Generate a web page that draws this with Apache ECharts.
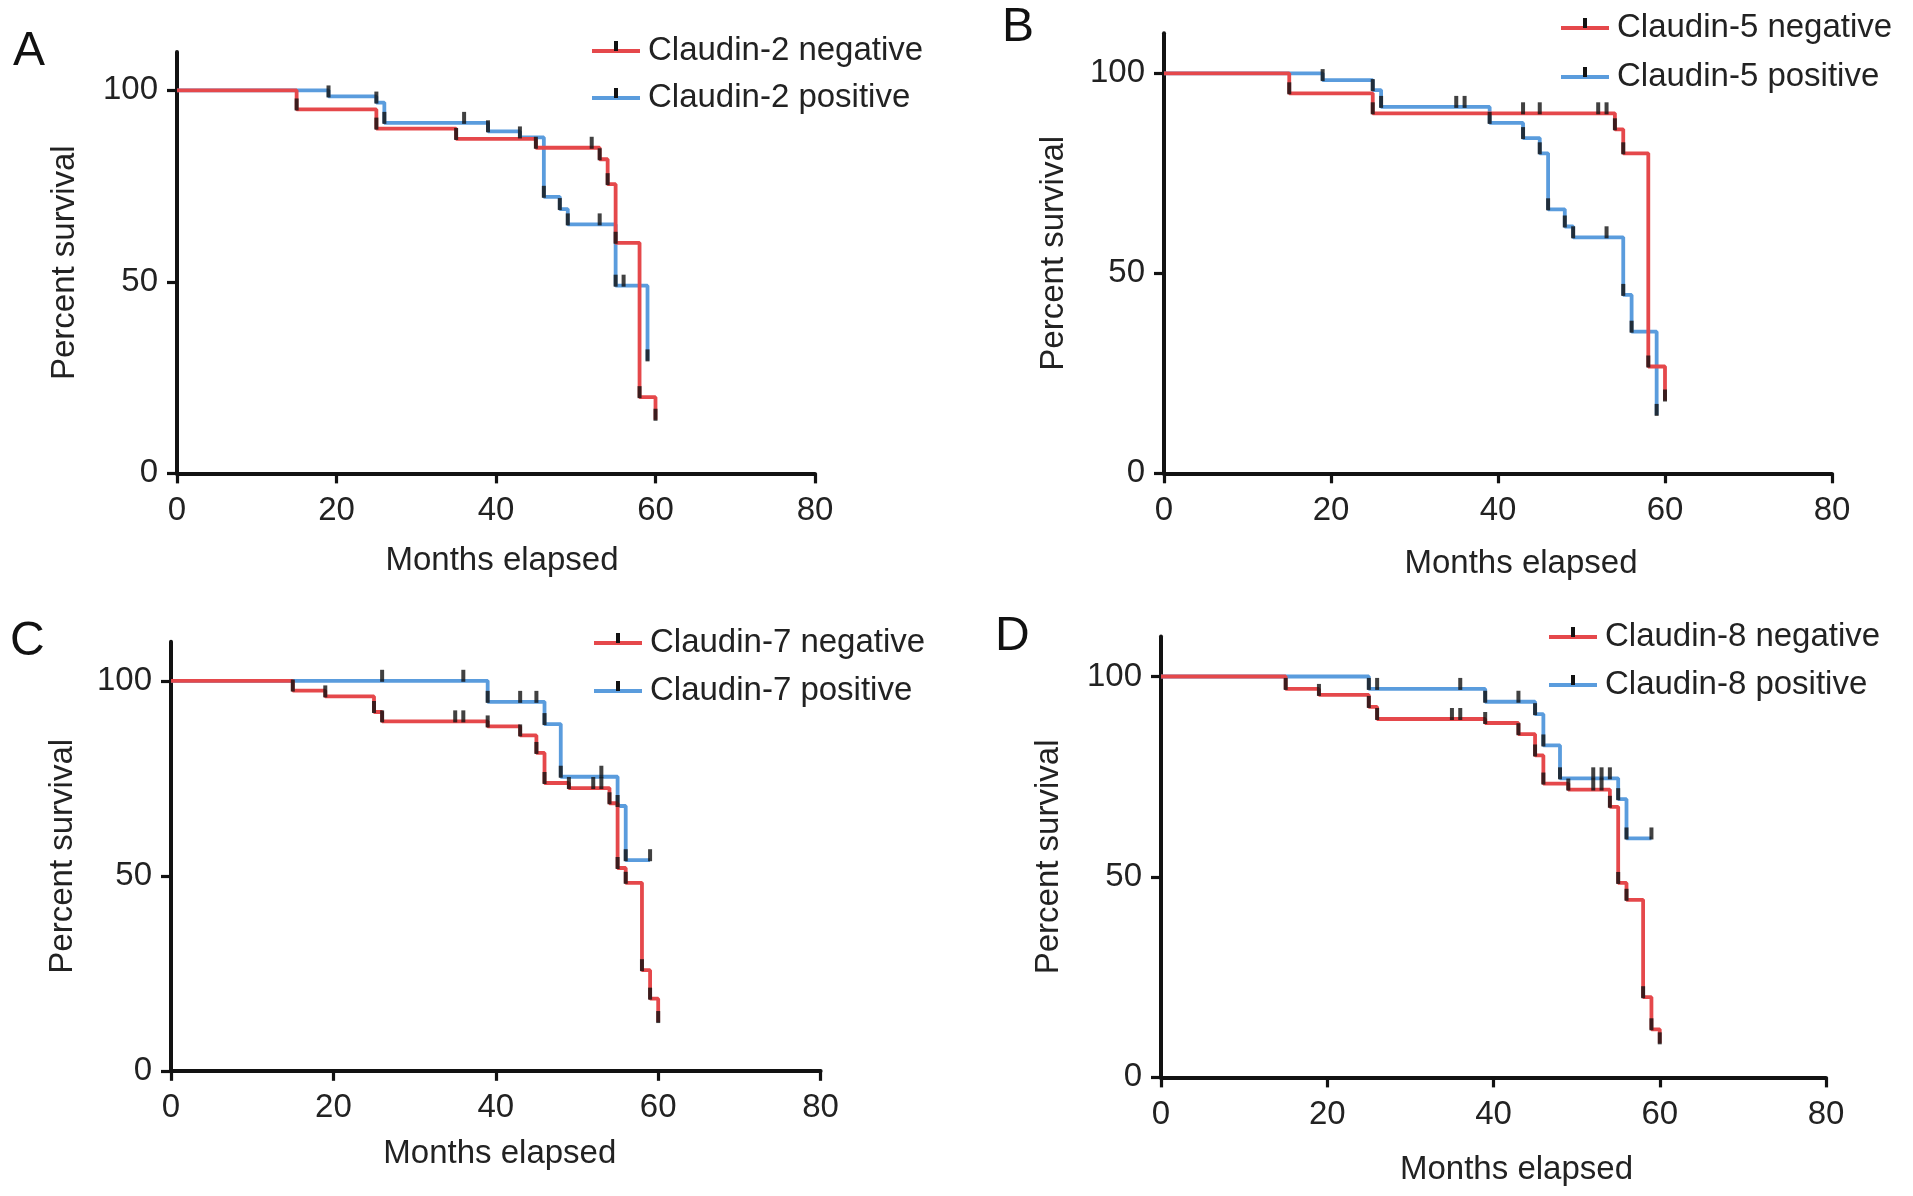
<!DOCTYPE html>
<html><head><meta charset="utf-8">
<script src="https://cdn.jsdelivr.net/npm/echarts@6/dist/echarts.min.js"></script>
<style>html,body{margin:0;padding:0;background:#fff}#c{width:1913px;height:1196px}</style>
</head><body><div id="c"></div>
<script>
// ---- data ----
const xTicks = [0, 20, 40, 60, 80];
const yTicks = [0, 50, 100];
const panelLetters = ['A', 'B', 'C', 'D'];
const markerNames = ['Claudin-2', 'Claudin-5', 'Claudin-7', 'Claudin-8'];
const xTitle = 'Months elapsed';
const yTitle = 'Percent survival';

// Panel A (Claudin-2)
const aNegT = [0, 15, 25, 35, 45, 53, 54, 55, 58, 60];
const aNegS = [100, 95, 90, 87.3, 85, 82, 75.5, 60.2, 19.9, 14];
const aNegCens = [15, 25, 35, 45, 52, 53, 54, 55, 58, 60];
const aPosT = [0, 19, 25, 26, 39, 43, 46, 48, 49, 55, 59];
const aPosS = [100, 98.4, 96.8, 91.5, 89.3, 87.7, 72.2, 69, 65, 49, 29.5];
const aPosCens = [19, 25, 26, 36, 39, 43, 46, 48, 49, 53, 55, 56, 59];

// Panel B (Claudin-5)
const bNegT = [0, 15, 25, 54, 55, 58, 60];
const bNegS = [100, 95, 90, 86, 80, 26.7, 18.2];
const bNegCens = [15, 25, 43, 45, 52, 53, 54, 55, 58, 60];
const bPosT = [0, 19, 25, 26, 39, 43, 45, 46, 48, 49, 55, 56, 59];
const bPosS = [100, 98.3, 95.8, 91.6, 87.6, 83.8, 80, 66, 61.7, 59, 44.6, 35.4, 14.6];
const bPosCens = [19, 25, 26, 35, 36, 39, 43, 45, 46, 48, 49, 53, 55, 56, 59];

// Panel C (Claudin-7)
const cNegT = [0, 15, 19, 25, 26, 39, 43, 45, 46, 49, 54, 55, 56, 58, 59, 60];
const cNegS = [100, 97.5, 96, 92, 89.6, 88.3, 86, 81.5, 73.8, 72.5, 68.6, 52, 48.2, 25.8, 18.5, 12.5];
const cNegCens = [15, 19, 25, 26, 35, 36, 39, 43, 45, 46, 49, 52, 53, 54, 55, 56, 58, 59, 60];
const cPosT = [0, 39, 46, 48, 55, 56, 59];
const cPosS = [100, 94.6, 88.9, 75.4, 67.9, 54, 54];
const cPosCens = [26, 36, 39, 43, 45, 46, 48, 53, 55, 56, 59];

// Panel D (Claudin-8)
const dNegT = [0, 15, 19, 25, 26, 39, 43, 45, 46, 49, 54, 55, 56, 58, 59, 60];
const dNegS = [100, 96.9, 95.4, 92.4, 89.4, 88.4, 85.6, 80.3, 73.3, 71.8, 67.5, 48.5, 44.3, 20, 12, 8.5];
const dNegCens = [15, 19, 25, 26, 35, 36, 39, 43, 45, 46, 49, 52, 53, 54, 55, 56, 58, 59, 60];
const dPosT = [0, 25, 39, 45, 46, 48, 55, 56, 59];
const dPosS = [100, 96.9, 93.7, 90.6, 82.8, 74.6, 69.4, 59.6, 59.6];
const dPosCens = [25, 26, 36, 39, 43, 45, 46, 48, 52, 53, 54, 55, 56, 59];

// ---- layout / style ----
const RED = '#E5484B';
const BLUE = '#5A9CDD';
const INK = '#121212';
const FONT = 'Liberation Sans, Arial, Helvetica, sans-serif';
const FS = 33;

const panels = [
  { neg: [aNegT, aNegS, aNegCens], pos: [aPosT, aPosS, aPosCens],
    grid: { left: 177, top: 52, width: 638, height: 421.4 }, yGap: 96, xGap: 71, xShift: 12,
    letter: [13, 28], legend: [592, 51, 98] },
  { neg: [bNegT, bNegS, bNegCens], pos: [bPosT, bPosS, bPosCens],
    grid: { left: 1164, top: 33.3, width: 668, height: 440 }, yGap: 94, xGap: 74, xShift: 46,
    letter: [1002, 4], legend: [1561, 28, 77] },
  { neg: [cNegT, cNegS, cNegCens], pos: [cPosT, cPosS, cPosCens],
    grid: { left: 171, top: 641.8, width: 649.6, height: 429 }, yGap: 92, xGap: 67, xShift: 8,
    letter: [10, 618], legend: [594, 643, 691] },
  { neg: [dNegT, dNegS, dNegCens], pos: [dPosT, dPosS, dPosCens],
    grid: { left: 1161, top: 636.4, width: 665, height: 441 }, yGap: 96, xGap: 76, xShift: 46,
    letter: [995, 613], legend: [1549, 637, 685] }
];

function stepData(T, S) { return T.map((t, i) => [t, S[i]]); }
function survAt(T, S, t) {
  let v = S[0];
  for (let i = 0; i < T.length; i++) { if (T[i] <= t) v = S[i]; }
  return v;
}
function censData(T, S, C) { return C.map(t => [t, survAt(T, S, t)]); }

const grids = [], xAxes = [], yAxes = [], series = [], graphics = [];
panels.forEach((p, k) => {
  grids.push(Object.assign({ outerBoundsMode: 'none', containLabel: false }, p.grid));
  xAxes.push({
    gridIndex: k, type: 'value', min: 0, max: 80, interval: 20,
    axisLine: { lineStyle: { color: INK, width: 4 } },
    axisTick: { length: 10, lineStyle: { color: INK, width: 3.2 } },
    splitLine: { show: false },
    axisLabel: { fontSize: FS, color: '#222', fontFamily: FONT, margin: 21 },
    name: xTitle, nameLocation: 'middle', nameGap: p.xGap,
    nameTextStyle: { fontSize: FS, color: '#222', fontFamily: FONT, padding: [0, 0, 0, p.xShift] }
  });
  yAxes.push({
    gridIndex: k, type: 'value', min: 0, max: 110,
    axisLine: { show: true, lineStyle: { color: INK, width: 4 } },
    axisTick: { show: true, length: 10, lineStyle: { color: INK, width: 3.2 }, customValues: yTicks },
    splitLine: { show: false },
    axisLabel: { fontSize: FS, color: '#222', fontFamily: FONT, margin: 19, customValues: yTicks },
    name: yTitle, nameLocation: 'middle', nameGap: p.yGap,
    nameTextStyle: { fontSize: FS, color: '#222', fontFamily: FONT }
  });
  const groups = [
    { d: p.pos, color: BLUE, name: markerNames[k] + ' positive' },
    { d: p.neg, color: RED, name: markerNames[k] + ' negative' }
  ];
  groups.forEach((g, j) => {
    series.push({
      type: 'line', name: g.name, xAxisIndex: k, yAxisIndex: k, step: 'end',
      data: stepData(g.d[0], g.d[1]), showSymbol: false, symbol: 'none',
      lineStyle: { color: g.color, width: 3.8 }, itemStyle: { color: g.color },
      z: 2 + j, silent: true, animation: false
    });
  });
  groups.forEach((g) => {
    series.push({
      type: 'scatter', name: g.name + ' censored', xAxisIndex: k, yAxisIndex: k,
      data: censData(g.d[0], g.d[1], g.d[2]),
      symbol: 'rect', symbolSize: [4, 12], symbolOffset: [0, -5],
      itemStyle: { color: INK }, z: 5, silent: true, animation: false
    });
  });
  graphics.push({ type: 'text', left: p.letter[0], top: p.letter[1],
    style: { text: panelLetters[k], fontSize: 48, fontFamily: FONT, fill: '#111' } });
  const lx = p.legend[0];
  [[RED, markerNames[k] + ' negative', p.legend[1]], [BLUE, markerNames[k] + ' positive', p.legend[2]]]
    .forEach(([col, txt, yy]) => {
      graphics.push({ type: 'line', shape: { x1: lx, y1: yy, x2: lx + 48, y2: yy },
        style: { stroke: col, lineWidth: 4 } });
      graphics.push({ type: 'rect', shape: { x: lx + 22, y: yy - 10, width: 4, height: 10 },
        style: { fill: INK } });
      graphics.push({ type: 'text', x: lx + 56, y: yy,
        style: { text: txt, fontSize: FS, fontFamily: FONT, fill: '#222', textVerticalAlign: 'middle', verticalAlign: 'middle' } });
    });
});

const chart = echarts.init(document.getElementById('c'), null, { renderer: 'canvas' });
chart.setOption({
  animation: false,
  backgroundColor: '#fff',
  grid: grids, xAxis: xAxes, yAxis: yAxes, series: series, graphic: graphics
});
</script></body></html>
